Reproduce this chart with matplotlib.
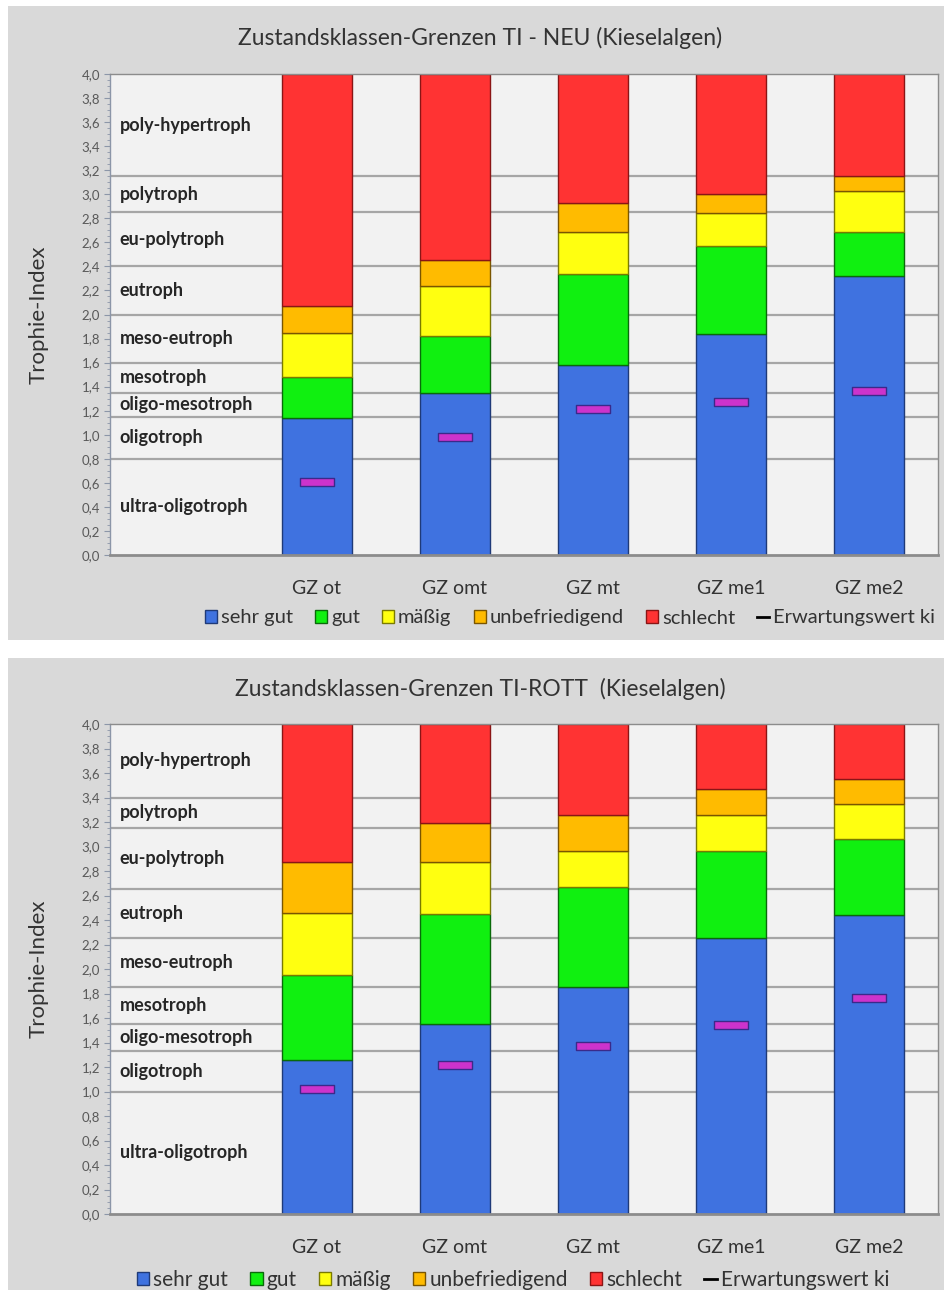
import matplotlib
matplotlib.use("Agg")
import matplotlib.pyplot as plt
import numpy as np
from matplotlib.patches import Rectangle
from matplotlib.lines import Line2D
from matplotlib.path import Path
from matplotlib.ticker import MultipleLocator, FuncFormatter

plt.rcParams['font.family'] = ['Lato', 'DejaVu Sans']

categories = ["GZ ot", "GZ omt", "GZ mt", "GZ me1", "GZ me2"]
series_names = ["sehr gut", "gut", "mäßig", "unbefriedigend", "schlecht"]
marker_name = "Erwartungswert ki"

# --- Chart 1: TI - NEU (upper limits of each class, cumulative)
title1 = "Zustandsklassen-Grenzen TI - NEU (Kieselalgen)"
neu_sehr_gut = [1.14, 1.35, 1.58, 1.84, 2.32]
neu_gut = [1.48, 1.82, 2.34, 2.57, 2.69]
neu_maessig = [1.85, 2.24, 2.69, 2.84, 3.03]
neu_unbefr = [2.07, 2.45, 2.93, 3.00, 3.15]
neu_schlecht = [4.0, 4.0, 4.0, 4.0, 4.0]
neu_erwartung = [0.61, 0.98, 1.21, 1.27, 1.36]
neu_class_bounds = [0.0, 0.8, 1.15, 1.35, 1.6, 2.0, 2.4, 2.85, 3.15, 4.0]

# --- Chart 2: TI-ROTT
title2 = "Zustandsklassen-Grenzen TI-ROTT  (Kieselalgen)"
rott_sehr_gut = [1.26, 1.55, 1.85, 2.25, 2.44]
rott_gut = [1.95, 2.45, 2.67, 2.96, 3.06]
rott_maessig = [2.46, 2.87, 2.96, 3.26, 3.35]
rott_unbefr = [2.875, 3.19, 3.26, 3.47, 3.55]
rott_schlecht = [4.0, 4.0, 4.0, 4.0, 4.0]
rott_erwartung = [1.02, 1.22, 1.37, 1.54, 1.76]
rott_class_bounds = [0.0, 1.0, 1.33, 1.55, 1.85, 2.25, 2.65, 3.15, 3.4, 4.0]

class_names = ["ultra-oligotroph", "oligotroph", "oligo-mesotroph", "mesotroph",
               "meso-eutroph", "eutroph", "eu-polytroph", "polytroph", "poly-hypertroph"]

colors = ["#3f72e0", "#10f010", "#ffff10", "#ffbb00", "#ff3333"]
edges = ["#1f3a78", "#0a6a0a", "#7a7a00", "#7a5500", "#8a1515"]

W, H = 944, 1290
fig = plt.figure(figsize=(W / 100, H / 100), dpi=100, facecolor="white")

def fx(px):
    return px / W

def fy(py):
    return 1 - py / H

# panel backgrounds
for (y0, y1) in [(6, 640), (658, 1290)]:
    fig.patches.append(Rectangle((fx(8), fy(y1)), fx(W - 8), (y1 - y0) / H,
                                 transform=fig.transFigure, facecolor="#d9d9d9",
                                 edgecolor="none", zorder=-10))

bar_marker = Path([(-1, -0.22), (1, -0.22), (1, 0.22), (-1, 0.22), (-1, -0.22)],
                  [Path.MOVETO, Path.LINETO, Path.LINETO, Path.LINETO, Path.CLOSEPOLY])

def draw(ax_rect, title, title_y, tops, erw, bounds, legend_y, legend_x, legend_fs, colsp):
    ax = fig.add_axes(ax_rect)
    ax.set_zorder(5)
    ax.set_facecolor("#f2f2f2")
    ax.set_xlim(-0.5, 5.5)
    ax.set_ylim(0, 4.0)
    x = np.arange(1, len(categories) + 1)
    bw = 0.505
    # class boundary lines
    for b in bounds[1:-1]:
        ax.axhline(b, color="#a6a6a6", lw=1.6, zorder=1)
    # class labels
    for i, name in enumerate(class_names):
        yc = (bounds[i] + bounds[i + 1]) / 2
        ax.text(-0.43, yc, name, fontsize=13, fontweight="bold", color="#262626",
                va="center", ha="left", zorder=3)
    bottom = np.zeros(len(categories))
    for k, t in enumerate(tops):
        t = np.array(t)
        ax.bar(x, t - bottom, bw, bottom=bottom, color=colors[k], edgecolor=edges[k],
               lw=1.0, zorder=2, label=series_names[k])
        bottom = t
    ax.scatter(x, erw, marker=bar_marker, s=25 ** 2, facecolor="#cc33cc",
               edgecolor="#3a2a8a", linewidths=1.0, zorder=4)
    # axes styling
    ax.yaxis.set_major_locator(MultipleLocator(0.2))
    ax.yaxis.set_minor_locator(MultipleLocator(0.05))
    ax.yaxis.set_major_formatter(FuncFormatter(lambda v, p: f"{v:.1f}".replace(".", ",")))
    ax.tick_params(axis="y", which="major", labelsize=9.5, labelcolor="#595959",
                   color="#8c96a8", length=4, pad=3)
    ax.tick_params(axis="y", which="minor", color="#8c96a8", length=2)
    ax.set_xticks(x)
    ax.set_xticklabels(categories, fontsize=14, color="#333333")
    ax.tick_params(axis="x", length=0, pad=18)
    for s in ["top", "right"]:
        ax.spines[s].set_color("#8c8c8c")
        ax.spines[s].set_linewidth(1.0)
    ax.spines["left"].set_color("#8c96a8")
    ax.spines["left"].set_linewidth(1.0)
    ax.spines["bottom"].set_color("#8c8c8c")
    ax.spines["bottom"].set_linewidth(2.0)
    ax.set_ylabel("Trophie-Index", fontsize=16, color="#333333", labelpad=24)
    fig.text(fx(480), fy(title_y), title, fontsize=16.5, color="#333333",
             ha="center", va="center")
    handles = [Rectangle((0, 0), 1, 1, facecolor=colors[k], edgecolor=edges[k], lw=1.0)
               for k in range(5)]
    handles.append(Line2D([0], [0], color="black", lw=2))
    labels = series_names + [marker_name]
    fig.legend(handles, labels, loc="center", bbox_to_anchor=(fx(legend_x), fy(legend_y)),
               ncol=6, frameon=False, fontsize=legend_fs, handlelength=0.6,
               handleheight=0.6, handletextpad=0.2, columnspacing=colsp,
               labelcolor="#333333")
    return ax

draw([fx(110), fy(555), fx(828), 481 / H], title1, 38,
     [neu_sehr_gut, neu_gut, neu_maessig, neu_unbefr, neu_schlecht],
     neu_erwartung, neu_class_bounds, 618, 570, 14.5, 1.1)
draw([fx(110), fy(1214), fx(828), 490 / H], title2, 689,
     [rott_sehr_gut, rott_gut, rott_maessig, rott_unbefr, rott_schlecht],
     rott_erwartung, rott_class_bounds, 1280, 513, 15, 1.05)

fig.savefig("out.png", dpi=100, facecolor="white")
